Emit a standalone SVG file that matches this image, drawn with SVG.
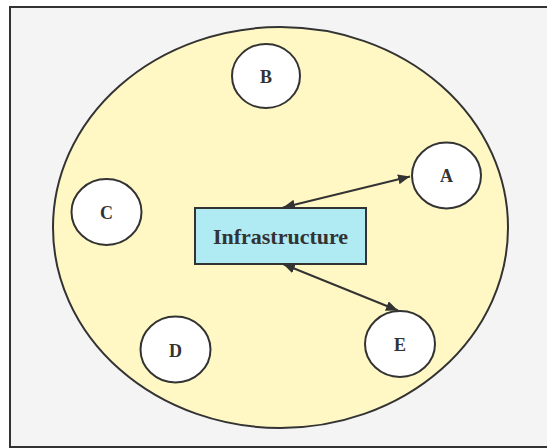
<svg xmlns="http://www.w3.org/2000/svg" width="547" height="448" viewBox="0 0 547 448">
<defs>
<marker id="ah" viewBox="0 0 12 10" refX="12" refY="5" markerWidth="12" markerHeight="10" markerUnits="userSpaceOnUse" orient="auto-start-reverse">
<path d="M0,0 L12,5 L0,10 z" fill="#333"/>
</marker>
</defs>
<style>
.node{fill:#fff;stroke:#333;stroke-width:2}
.lbl{font-family:"Liberation Serif",serif;font-weight:bold;fill:#333;text-anchor:middle;dominant-baseline:central}
.conn{stroke:#333;stroke-width:2;fill:none;marker-start:url(#ah);marker-end:url(#ah)}
</style>
<rect x="10" y="7" width="545" height="440" fill="#f4f4f4" stroke="#333" stroke-width="2"/>
<ellipse cx="280.5" cy="227.5" rx="227.5" ry="200.5" fill="#fff8c4" stroke="#333" stroke-width="2"/>
<g id="connectors">
<line class="conn" x1="283" y1="207.5" x2="410" y2="176.5"/>
<line class="conn" x1="283" y1="264" x2="398" y2="310.5"/>
</g>
<g id="infrastructure">
<rect x="195" y="208" width="171" height="56" fill="#b0ebf3" stroke="#333" stroke-width="2"/>
<text class="lbl" x="280.5" y="236" font-size="22">Infrastructure</text>
</g>
<g id="A"><ellipse class="node" cx="446.5" cy="175.5" rx="34.5" ry="33"/><text class="lbl" x="446.5" y="176" font-size="18">A</text></g>
<g id="B"><ellipse class="node" cx="266" cy="76" rx="34" ry="32"/><text class="lbl" x="266" y="77" font-size="18">B</text></g>
<g id="C"><ellipse class="node" cx="106.5" cy="212" rx="35" ry="33"/><text class="lbl" x="106.5" y="213" font-size="18">C</text></g>
<g id="D"><ellipse class="node" cx="175.5" cy="349.5" rx="35" ry="33"/><text class="lbl" x="175.5" y="350.5" font-size="18">D</text></g>
<g id="E"><ellipse class="node" cx="400" cy="344" rx="35" ry="33"/><text class="lbl" x="400" y="345" font-size="18">E</text></g>
</svg>
